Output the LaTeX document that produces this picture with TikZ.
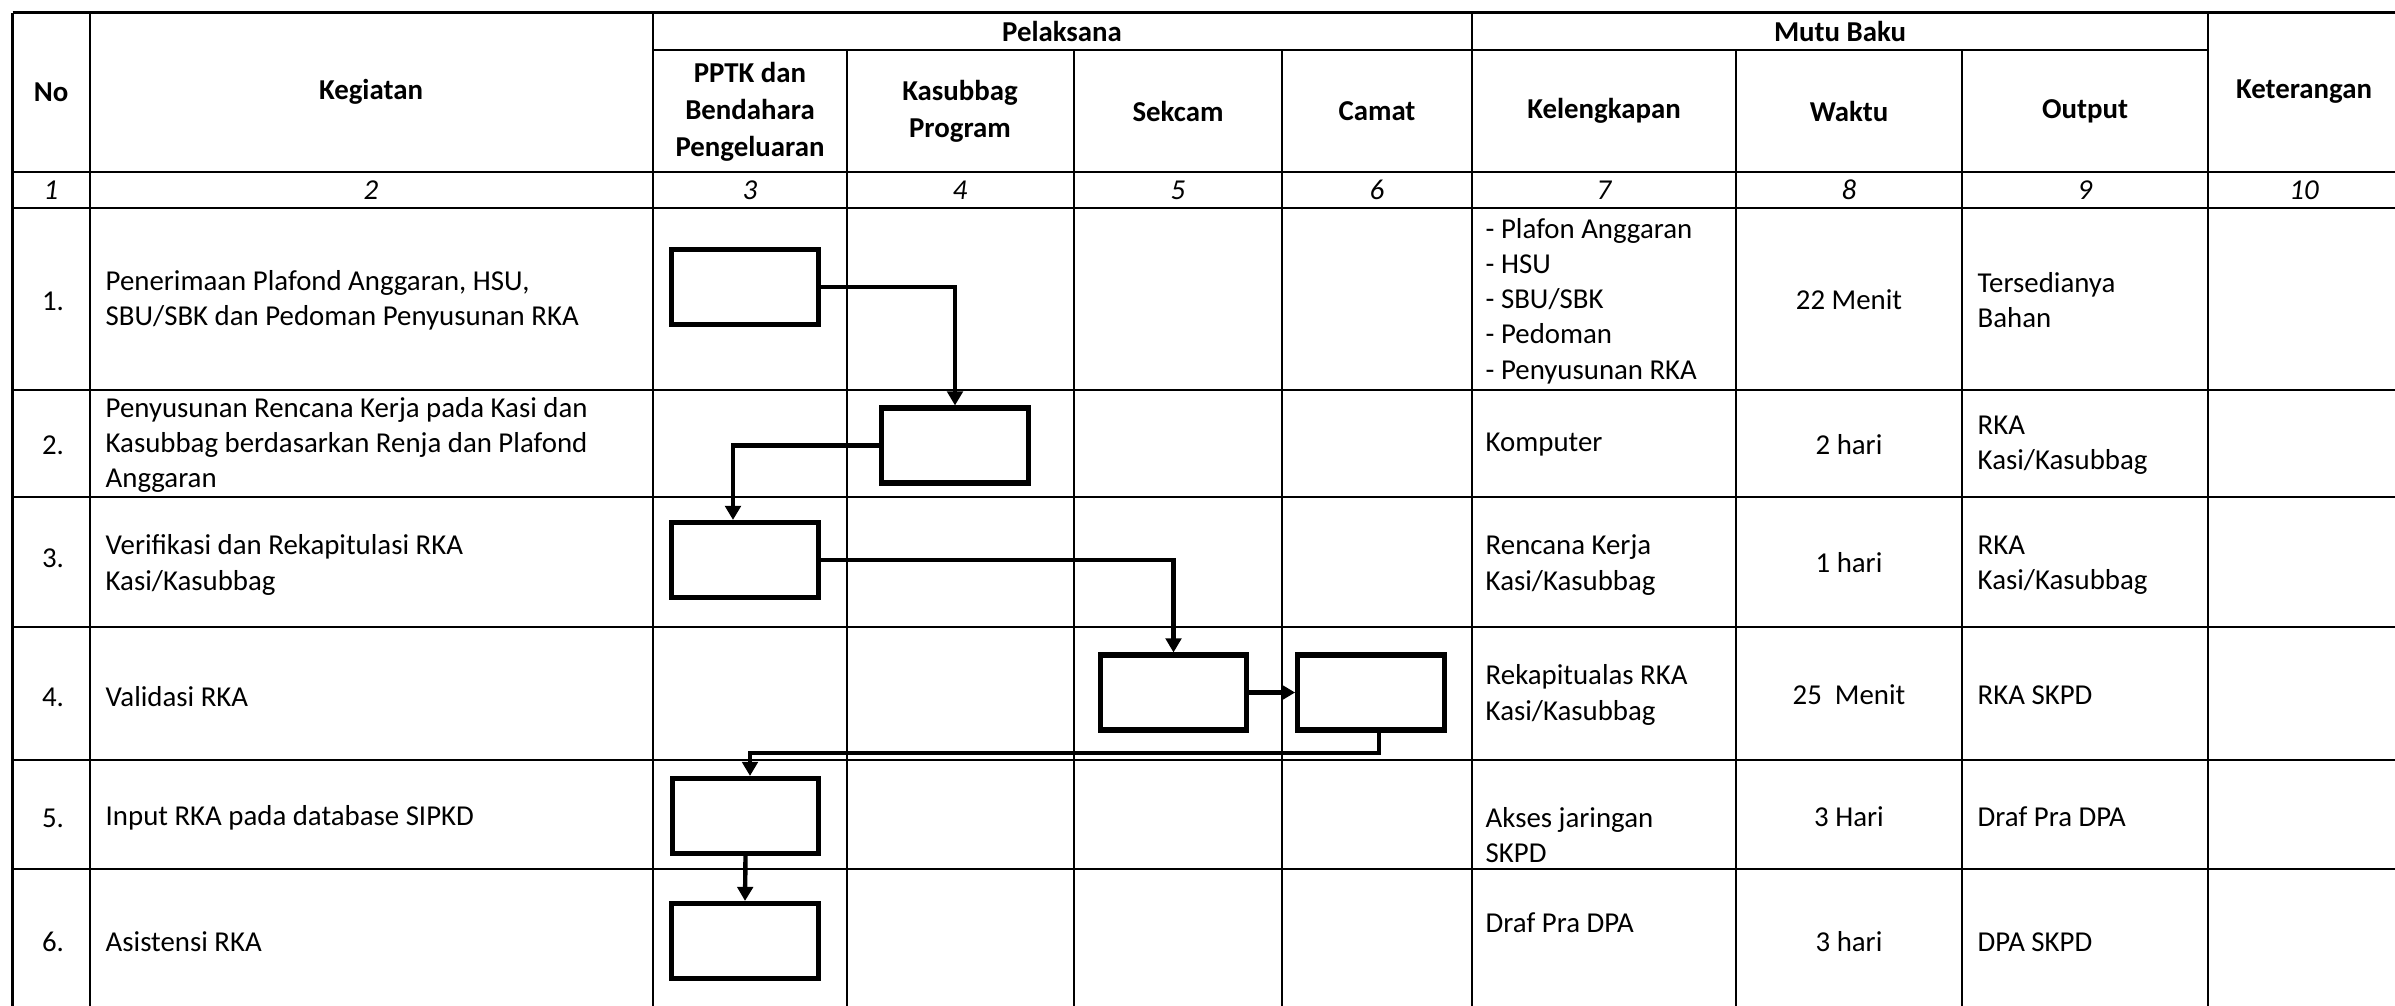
\documentclass[tikz,border=0pt]{standalone}
\usepackage{fontspec}
\setmainfont{Carlito}
\usetikzlibrary{arrows.meta}
\begin{document}
\begin{tikzpicture}[x=0.01cm,y=-0.01cm,
  grid/.style={line width=0.75pt},
  txt/.style={inner sep=0pt, font=\fontsize{8.2}{10}\selectfont, align=left, anchor=west},
  ctr/.style={inner sep=0pt, font=\fontsize{8.2}{10}\selectfont, align=center},
  hdr/.style={inner sep=0pt, font=\fontsize{8.2}{10.6}\selectfont\bfseries, align=center},
  num/.style={inner sep=0pt, font=\fontsize{8.2}{10}\selectfont\itshape, align=center},
  fbox/.style={draw, line width=1.45pt, minimum width=1.465cm, minimum height=0.75cm, inner sep=0pt, fill=white},
  flow/.style={line width=1.25pt, -{Triangle[length=4pt,width=4.4pt]}}]
\useasboundingbox (0,0) rectangle (2395,1005);
% ---- grid ----
\draw[grid] (12.6,12.7) -- (2400,12.7);
\draw[grid] (653,50) -- (2208,50);
\foreach \yy in {172,208,390,497,627,760,869}
  \draw[grid] (12.6,\yy) -- (2400,\yy);
\foreach \xx in {12.6,90,653,1472,2208}
  \draw[grid] (\xx,12.7) -- (\xx,1020);
\foreach \xx in {847,1074,1282,1736,1962}
  \draw[grid] (\xx,50) -- (\xx,1020);
% ---- header ----
\node[hdr] (hno) at (51,92) {No};
\node[hdr] (hkeg) at (371,92) {Kegiatan};
\node[hdr] (hpel) at (1062,31) {Pelaksana};
\node[hdr] (hmutu) at (1840,31) {Mutu Baku};
\node[hdr] (hpptk) at (750,112) {PPTK dan\\Bendahara\\Pengeluaran};
\node[hdr] (hkas) at (960,111) {Kasubbag\\Program};
\node[hdr] (hsek) at (1178,111) {Sekcam};
\node[hdr] (hcam) at (1377,111) {Camat};
\node[hdr] (hkel) at (1604,111) {Kelengkapan};
\node[hdr] (hwak) at (1849,111) {Waktu};
\node[hdr] (hout) at (2085,111) {Output};
\node[hdr] (hket) at (2304,92) {Keterangan};
% ---- number row ----
\node[num] (n1) at (51,190) {1};
\node[num] (n2) at (371,190) {2};
\node[num] (n3) at (750,190) {3};
\node[num] (n4) at (960,190) {4};
\node[num] (n5) at (1178,190) {5};
\node[num] (n6) at (1377,190) {6};
\node[num] (n7) at (1604,190) {7};
\node[num] (n8) at (1849,190) {8};
\node[num] (n9) at (2085,190) {9};
\node[num] (n10) at (2304,190) {10};
% ---- row numbers ----
\node[ctr] (r1) at (53,301) {1.};
\node[ctr] (r2) at (53,445) {2.};
\node[ctr] (r3) at (53,558) {3.};
\node[ctr] (r4) at (53,697) {4.};
\node[ctr] (r5) at (53,818) {5.};
\node[ctr] (r6) at (53,942) {6.};
% ---- kegiatan ----
\node[txt] (k1) at (105,300) {Penerimaan Plafond Anggaran, HSU,\\SBU/SBK dan Pedoman Penyusunan RKA};
\node[txt] (k2) at (105,445) {Penyusunan Rencana Kerja pada Kasi dan\\Kasubbag berdasarkan Renja dan Plafond\\Anggaran};
\node[txt] (k3) at (105,565) {Verifikasi dan Rekapitulasi RKA\\Kasi/Kasubbag};
\node[txt] (k4) at (105,697) {Validasi RKA};
\node[txt] (k5) at (105,818) {Input RKA pada database SIPKD};
\node[txt] (k6) at (105,942) {Asistensi RKA};
% ---- kelengkapan ----
\node[txt] (l1) at (1485,301) {- Plafon Anggaran\\- HSU\\- SBU/SBK\\- Pedoman\\- Penyusunan RKA};
\node[txt] (l2) at (1485,445) {Komputer};
\node[txt] (l3) at (1485,565) {Rencana Kerja\\Kasi/Kasubbag};
\node[txt] (l4) at (1485,695) {Rekapitualas RKA\\Kasi/Kasubbag};
\node[txt] (l5) at (1485,835) {Akses jaringan\\SKPD};
\node[txt] (l6) at (1485,923) {Draf Pra DPA};
% ---- waktu ----
\node[ctr] (w1) at (1849,300) {22 Menit};
\node[ctr] (w2) at (1849,445) {2 hari};
\node[ctr] (w3) at (1849,563) {1 hari};
\node[ctr] (w4) at (1849,695) {25\ \ Menit};
\node[ctr] (w5) at (1849,817) {3 Hari};
\node[ctr] (w6) at (1849,942) {3 hari};
% ---- output ----
\node[txt] (o1) at (1977,300) {Tersedianya\\Bahan};
\node[txt] (o2) at (1977,445) {RKA\\Kasi/Kasubbag};
\node[txt] (o3) at (1977,565) {RKA\\Kasi/Kasubbag};
\node[txt] (o4) at (1977,695) {RKA SKPD};
\node[txt] (o5) at (1977,817) {Draf Pra DPA};
\node[txt] (o6) at (1977,942) {DPA SKPD};
% ---- flow boxes ----
\node[fbox] (b1) at (745,287) {};
\node[fbox] (b2) at (955,445.5) {};
\node[fbox] (b3) at (745,560) {};
\node[fbox] (b4) at (1173.5,692.5) {};
\node[fbox] (b5) at (1371,692.5) {};
\node[fbox] (b6) at (745.5,816) {};
\node[fbox] (b7) at (745,941) {};
% ---- connectors ----
\draw[flow] (b1.east) -| (b2.north);
\draw[flow] (b2.west) -| ([xshift=-0.12cm]b3.north);
\draw[flow] (b3.east) -| (b4.north);
\draw[flow] (b4.east) -- (b5.west);
\coordinate (k5) at (750,753);
\draw[flow] ([xshift=0.08cm]b5.south) |- (k5) -- (k5 |- b6.north);
\draw[flow] (b6.south) -- (b7.north);
\end{tikzpicture}
\end{document}
